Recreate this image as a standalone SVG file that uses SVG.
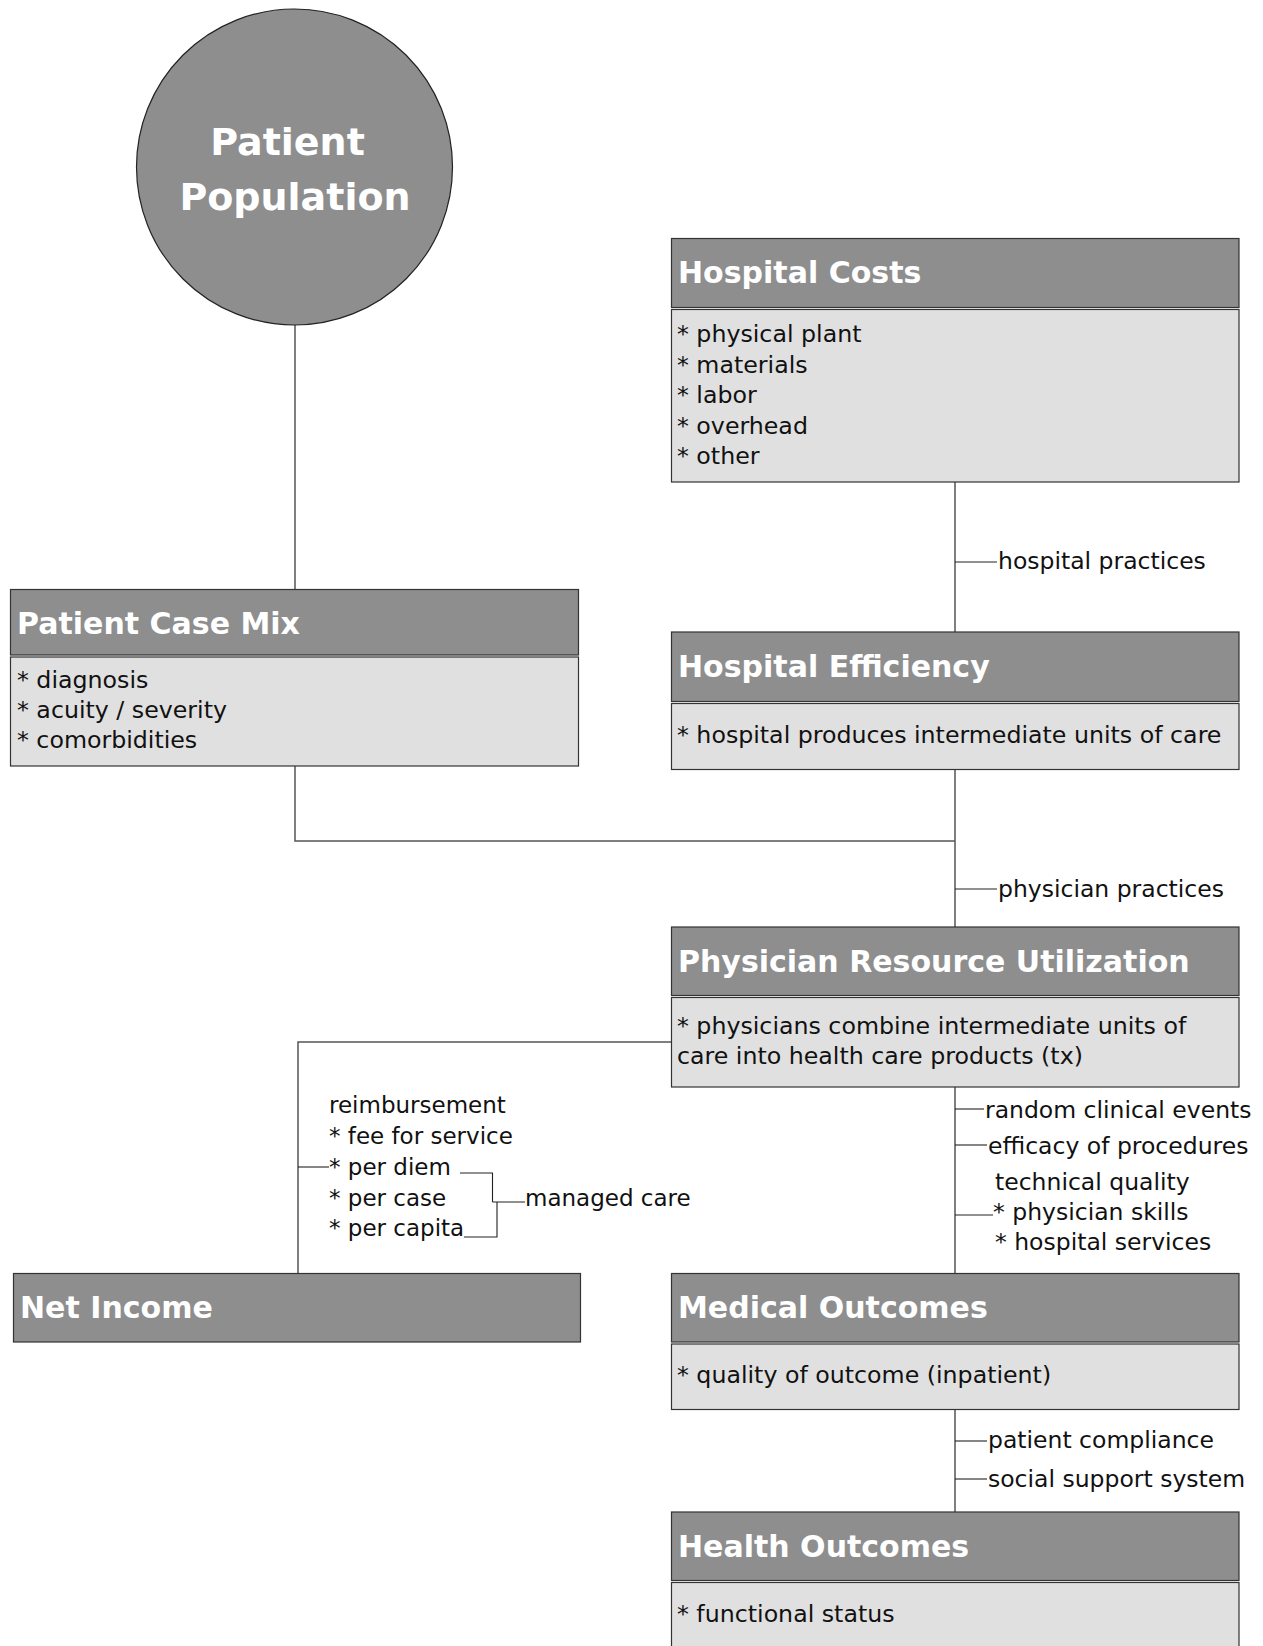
<svg xmlns="http://www.w3.org/2000/svg" width="1263" height="1646" viewBox="0 0 1263 1646">
<style>
  .hdr { fill: #8e8e8e; stroke: #333; stroke-width: 1.2; }
  .bdy { fill: #e0e0e0; stroke: #333; stroke-width: 1.2; }
  .title { font-family: "DejaVu Sans", sans-serif; font-weight: bold; font-size: 30px; fill: #ffffff; }
  .big { font-family: "DejaVu Sans", sans-serif; font-weight: bold; font-size: 38px; fill: #ffffff; text-anchor: middle; }
  .txt { font-family: "DejaVu Sans", sans-serif; font-size: 23.7px; fill: #111; }
  .lbl { font-family: "DejaVu Sans", sans-serif; font-size: 23.5px; fill: #111; }
  .lbl2 { font-family: "DejaVu Sans", sans-serif; font-size: 23px; fill: #111; }
  .conn { fill: none; stroke: #555; stroke-width: 1.5; }
  .tick { fill: none; stroke: #222; stroke-width: 1.1; }
</style>
<rect width="1263" height="1646" fill="#ffffff"/>

<g id="connectors">
  <path class="conn" d="M295 325 V589.5"/>
  <path class="conn" d="M955 482 V632"/>
  <path class="conn" d="M295 766 V841 H955"/>
  <path class="conn" d="M955 769.5 V927"/>
  <path class="conn" d="M671.5 1042 H298 V1273.5"/>
  <path class="conn" d="M955 1087 V1273.5"/>
  <path class="conn" d="M955 1409.5 V1512"/>
  <path class="tick" d="M955 562 H997"/>
  <path class="tick" d="M955 889 H997"/>
  <path class="tick" d="M955 1109 H984"/>
  <path class="tick" d="M955 1145 H987"/>
  <path class="tick" d="M955 1215 H993"/>
  <path class="tick" d="M955 1441 H987"/>
  <path class="tick" d="M955 1479 H987"/>
  <path class="tick" d="M298 1167 H329"/>
  <path class="tick" d="M460 1173 H492.5 V1202"/>
  <path class="tick" d="M464 1237 H497 V1202"/>
  <path class="tick" d="M492.5 1202 H525"/>
  <text class="lbl" x="998" y="569">hospital practices</text>
  <text class="lbl" x="998" y="897">physician practices</text>
  <text class="lbl" x="985" y="1118">random clinical events</text>
  <text class="lbl" x="988" y="1154">efficacy of procedures</text>
  <text class="lbl" x="995" y="1190">technical quality</text>
  <text class="lbl" x="993" y="1220">* physician skills</text>
  <text class="lbl" x="995" y="1250">* hospital services</text>
  <text class="lbl" x="988" y="1448">patient compliance</text>
  <text class="lbl" x="988" y="1487">social support system</text>
  <text class="lbl2" x="329" y="1113">reimbursement</text>
  <text class="lbl2" x="329" y="1144">* fee for service</text>
  <text class="lbl2" x="329" y="1175">* per diem</text>
  <text class="lbl2" x="329" y="1206">* per case</text>
  <text class="lbl2" x="329" y="1236">* per capita</text>
  <text class="lbl2" x="525" y="1206">managed care</text>
</g>

<g id="patient-population">
  <circle cx="294.5" cy="167" r="158" fill="#8e8e8e" stroke="#222" stroke-width="1.2"/>
  <text class="big" x="287.5" y="155">Patient</text>
  <text class="big" x="295" y="210">Population</text>
</g>

<g id="hospital-costs">
  <rect class="hdr" x="671.5" y="238.5" width="567.5" height="69"/>
  <rect class="bdy" x="671.5" y="309.5" width="567.5" height="172.5"/>
  <text class="title" x="678" y="283">Hospital Costs</text>
  <text class="txt" x="677" y="342">* physical plant</text>
  <text class="txt" x="677" y="372.5">* materials</text>
  <text class="txt" x="677" y="403">* labor</text>
  <text class="txt" x="677" y="433.5">* overhead</text>
  <text class="txt" x="677" y="464">* other</text>
</g>

<g id="patient-case-mix">
  <rect class="hdr" x="10.5" y="589.5" width="568" height="65.5"/>
  <rect class="bdy" x="10.5" y="657" width="568" height="109"/>
  <text class="title" x="17" y="634">Patient Case Mix</text>
  <text class="txt" x="17" y="688">* diagnosis</text>
  <text class="txt" x="17" y="718">* acuity / severity</text>
  <text class="txt" x="17" y="748">* comorbidities</text>
</g>

<g id="hospital-efficiency">
  <rect class="hdr" x="671.5" y="632" width="567.5" height="69.5"/>
  <rect class="bdy" x="671.5" y="703.5" width="567.5" height="66"/>
  <text class="title" x="678" y="677">Hospital Efficiency</text>
  <text class="txt" x="677" y="743">* hospital produces intermediate units of care</text>
</g>

<g id="physician-resource-utilization">
  <rect class="hdr" x="671.5" y="927" width="567.5" height="68.5"/>
  <rect class="bdy" x="671.5" y="997.5" width="567.5" height="89.5"/>
  <text class="title" x="678" y="972">Physician Resource Utilization</text>
  <text class="txt" x="677" y="1034">* physicians combine intermediate units of</text>
  <text class="txt" x="677" y="1064">care into health care products (tx)</text>
</g>

<g id="net-income">
  <rect class="hdr" x="13.5" y="1273.5" width="567" height="68.5"/>
  <text class="title" x="20" y="1318">Net Income</text>
</g>

<g id="medical-outcomes">
  <rect class="hdr" x="671.5" y="1273.5" width="567.5" height="68.5"/>
  <rect class="bdy" x="671.5" y="1344" width="567.5" height="65.5"/>
  <text class="title" x="678" y="1318">Medical Outcomes</text>
  <text class="txt" x="677" y="1383">* quality of outcome (inpatient)</text>
</g>

<g id="health-outcomes">
  <rect class="hdr" x="671.5" y="1512" width="567.5" height="68.5"/>
  <rect class="bdy" x="671.5" y="1582.5" width="567.5" height="80"/>
  <text class="title" x="678" y="1557">Health Outcomes</text>
  <text class="txt" x="677" y="1622">* functional status</text>
</g>
</svg>
